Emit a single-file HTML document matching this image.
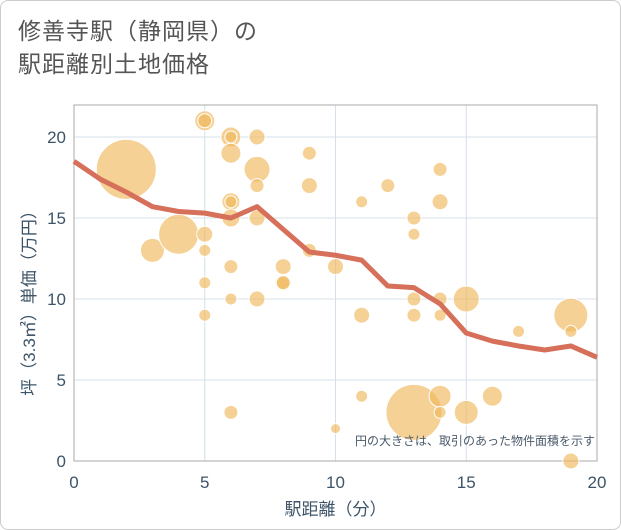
<!DOCTYPE html>
<html><head><meta charset="utf-8"><style>
body{margin:0;background:#fff;font-family:"Liberation Sans","Noto Sans CJK JP",sans-serif;}
#wrap{position:relative;width:619px;height:528px;border:1px solid #ccc;border-radius:8px;overflow:hidden;background:#fff}
#title{position:absolute;left:17px;top:14px;font-size:23px;line-height:33px;color:#555;letter-spacing:1px}
svg{position:absolute;left:0;top:0}
</style></head><body>
<div id="wrap">
<div id="title">修善寺駅（静岡県）の<br>駅距離別土地価格</div>
<svg id="c" width="621" height="530"></svg>
</div>
<script>
const xTicks=[0,5,10,15,20];
const yTicks=[0,5,10,15,20];
const bx=[2,3,4,5,5,5,5,5,5,6,6,6,6,6,6,6,6,6,7,7,7,7,7,8,8,8,9,9,9,10,10,11,11,11,12,13,13,13,13,13,14,14,14,14,14,14,15,15,16,17,19,19,19];
const by=[18,13,14,21,21,14,13,11,9,20,20,19,16,16,15,12,10,3,20,18,17,15,10,12,11,11,19,17,13,12,2,16,9,4,17,15,14,10,9,3,18,16,10,9,4,3,10,3,4,8,9,8,0];
const bs=[30,12,20,10,7,8,6,6,6,10,6,10,9,6,9,7,6,7,8,13,7,8,8,8,8,7,7,8,7,8,5,6,8,6,7,7,6,7,7,28,7,8,7,6,11,6,13,12,10,6,17,6,8];
const lx=[0,1,2,3,4,5,6,7,8,9,10,11,12,13,14,15,16,17,18,19,20];
const ly=[18.5,17.4,16.6,15.7,15.4,15.3,15.0,15.7,14.3,12.9,12.7,12.4,10.8,10.7,9.7,7.9,7.4,7.1,6.85,7.1,6.4];
const L=73,R=596,T=104,B=460;
const X=v=>L+(R-L)*v/20, Y=v=>B-(B-136)*v/20;
const s=document.getElementById('c'),NS='http://www.w3.org/2000/svg';
function mk(t,a,p){const e=document.createElementNS(NS,t);for(const k in a)e.setAttribute(k,a[k]);(p||s).appendChild(e);return e;}
xTicks.forEach(v=>{const g=mk('line',{x1:X(v),x2:X(v),y1:T,y2:B,stroke:'#d5e0ea','stroke-width':1});

const t=mk('text',{x:X(v),y:487,'text-anchor':'middle','font-size':17,fill:'#3d5468'});t.textContent=v;
});
yTicks.forEach(v=>{const g=mk('line',{x1:L,x2:R,y1:Y(v),y2:Y(v),stroke:'#d5e0ea','stroke-width':1});

const t=mk('text',{x:L-8,y:Y(v)+6,'text-anchor':'end','font-size':17,fill:'#3d5468'});t.textContent=v;
});
const fr=mk('rect',{x:L,y:T,width:R-L,height:B-T,fill:'none',stroke:'#aaa','stroke-width':1});

bx.forEach((v,i)=>{const c=mk('circle',{cx:X(v),cy:Y(by[i]),r:bs[i],fill:'#f0b85c','fill-opacity':0.65,stroke:'#fff','stroke-width':1});
});
const p=mk('polyline',{points:lx.map((v,i)=>X(v)+','+Y(ly[i])).join(' '),fill:'none',stroke:'#d6705a','stroke-width':5,'stroke-linejoin':'round'});

const n=mk('text',{x:594,y:444,'text-anchor':'end','font-size':12,fill:'#4a5a6a'});n.textContent='円の大きさは、取引のあった物件面積を示す';

const xt=mk('text',{x:(L+R)/2,y:514,'text-anchor':'middle','font-size':17,fill:'#3d5468'});xt.textContent='駅距離（分）';

const yt=mk('text',{x:0,y:0,'text-anchor':'middle','font-size':17,fill:'#3d5468',transform:'translate(34,298) rotate(-90)'});yt.textContent='坪（3.3㎡）単価（万円）';

</script>
</body></html>
